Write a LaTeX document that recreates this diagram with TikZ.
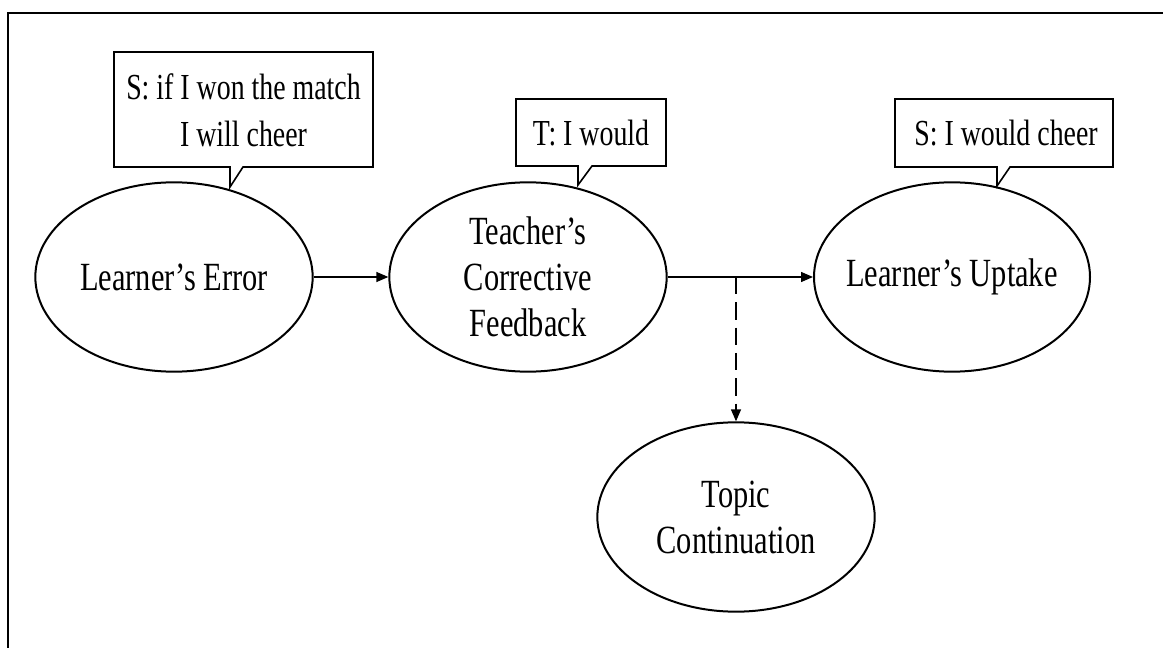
\documentclass[tikz,border=0pt]{standalone}
\usepackage{fontspec}
\setmainfont[FakeStretch=0.76]{Liberation Serif}
\usetikzlibrary{shapes.geometric,arrows.meta}
\tikzset{
  oval/.style={draw, line width=1.5pt, ellipse, inner xsep=-30pt, inner ysep=-20pt, minimum width=208pt, minimum height=142pt, align=center, font=\fontsize{30}{34.5}\selectfont},
  calltext/.style={inner sep=0pt, align=center, font=\fontsize{27.5}{35}\selectfont},
  callbox/.style={draw, line width=1.2pt, fill=white, line join=miter},
  conn/.style={line width=1pt, -{Triangle[length=9pt,width=7.5pt]}},
  frameline/.style={line width=1.8pt}
}
\begin{document}
\begin{tikzpicture}[x=0.75pt,y=-0.75pt]
\useasboundingbox (0,0) rectangle (1163,648);
% frame (clipped at right and bottom)
\draw[frameline] (8,648) -- (8,13) -- (1163,13);

% ovals
\node[oval] (err) at (174,277) {Learner’s Error};
\node[oval] (tcf) at (528,277) {Teacher’s\\Corrective\\Feedback};
\node[oval, minimum width=207pt] (upt) at (952,277) {Learner’s Uptake};
\node[oval] (top) at (736,517) {Topic\\Continuation};

% callouts
\coordinate (tip1) at (230,187);
\draw[callbox] (114,52) -- (373,52) -- (373,167) -- (243,167) -- (tip1) -- (230,167) -- (114,167) -- cycle;
\node[calltext] (c1) at (243.5,110) {S: if I won the match\\I will cheer};

\coordinate (tip2) at (578,185);
\draw[callbox] (516,99) -- (666,99) -- (666,166) -- (592,166) -- (tip2) -- (578,166) -- (516,166) -- cycle;
\node[calltext] (c2) at (591,133) {T: I would};

\coordinate (tip3) at (997,186);
\draw[callbox] (895,99) -- (1113,99) -- (1113,167) -- (1010,167) -- (tip3) -- (997,167) -- (895,167) -- cycle;
\node[calltext] (c3) at (1006,133) {S: I would cheer};

% connectors
\draw[conn] (err.east) -- (tcf.west);
\draw[conn] (tcf.east) -- (upt.west);
\coordinate (split) at (736,277);
\draw[conn, dashed, dash pattern=on 13pt off 6pt] (split) -- (top.north);
\end{tikzpicture}
\end{document}
